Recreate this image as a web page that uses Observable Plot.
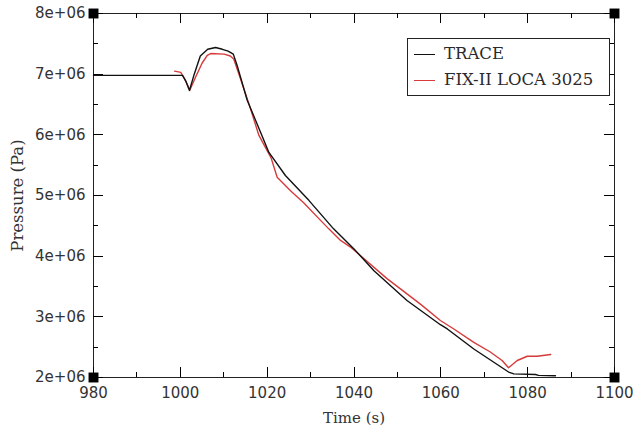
<!DOCTYPE html>
<html><head><meta charset="utf-8">
<script src="https://cdn.jsdelivr.net/npm/d3@7"></script>
<script src="https://cdn.jsdelivr.net/npm/@observablehq/plot@0.6"></script>
<style>
body{margin:0;background:#fff}
#wrap{position:relative;width:635px;height:431px}
.legend{position:absolute;left:407px;top:38px;width:203px;height:58px;box-sizing:border-box;border:1px solid #222;background:#fff;font-family:"DejaVu Serif",serif;font-size:16.5px;color:#2a2a2a}
.row{position:absolute;left:0;height:20px;line-height:20px}
.row .ln{position:absolute;left:6px;top:10px;width:21px;height:1px}
.row .tx{position:absolute;left:36px;top:0;white-space:nowrap}
</style>
</head><body><div id="wrap"></div>
<script>
const traceTime = [980, 1000.5, 1001.3, 1002.1, 1003.2, 1004.6, 1006.3, 1008.1, 1009.7, 1011.0, 1012.2, 1013.1, 1015.4, 1018.5, 1020.4, 1024.2, 1029.6, 1035.3, 1040.0, 1044.6, 1052.2, 1059.9, 1061.5, 1067.6, 1075.6, 1076.8, 1081.8, 1082.5, 1086.4];
const tracePressure = [6.98e6, 6.98e6, 6.88e6, 6.73e6, 7.0e6, 7.3e6, 7.41e6, 7.44e6, 7.41e6, 7.38e6, 7.33e6, 7.14e6, 6.57e6, 6.04e6, 5.71e6, 5.33e6, 4.92e6, 4.45e6, 4.12e6, 3.76e6, 3.27e6, 2.87e6, 2.80e6, 2.47e6, 2.09e6, 2.06e6, 2.05e6, 2.035e6, 2.03e6];
const fixTime = [998.7, 1000.1, 1001.0, 1002.2, 1003.5, 1005.0, 1006.2, 1007.0, 1010.1, 1011.5, 1012.3, 1013.5, 1015.8, 1018.1, 1020.0, 1020.9, 1022.3, 1025.5, 1028.4, 1032.3, 1034.2, 1036.9, 1039.2, 1047.6, 1055.3, 1059.9, 1063.0, 1067.6, 1071.4, 1074.1, 1075.6, 1077.6, 1079.9, 1082.2, 1085.3];
const fixPressure = [7.05e6, 7.03e6, 6.92e6, 6.74e6, 6.95e6, 7.18e6, 7.31e6, 7.34e6, 7.33e6, 7.30e6, 7.25e6, 7.0e6, 6.51e6, 5.99e6, 5.74e6, 5.62e6, 5.30e6, 5.07e6, 4.88e6, 4.59e6, 4.45e6, 4.26e6, 4.15e6, 3.63e6, 3.21e6, 2.94e6, 2.80e6, 2.58e6, 2.42e6, 2.28e6, 2.16e6, 2.28e6, 2.35e6, 2.35e6, 2.38e6];
const xMajorTicks = [980, 1000, 1020, 1040, 1060, 1080, 1100];
const xMinorTicks = [990, 1010, 1030, 1050, 1070, 1090];
const yMajorTicks = [2e6, 3e6, 4e6, 5e6, 6e6, 7e6, 8e6];
const yMinorTicks = [2.5e6, 3.5e6, 4.5e6, 5.5e6, 6.5e6, 7.5e6];
const seriesNames = ["TRACE", "FIX-II LOCA 3025"];
const seriesColors = ["#111111", "#d63a3a"];
const xLabel = "Time (s)";
const yLabel = "Pressure (Pa)";

const trace = traceTime.map((t, i) => ({t, p: tracePressure[i]}));
const fix = fixTime.map((t, i) => ({t, p: fixPressure[i]}));
const xDomain = [xMajorTicks[0], xMajorTicks[xMajorTicks.length - 1]];
const yDomain = [yMajorTicks[0], yMajorTicks[yMajorTicks.length - 1]];
const corners = [];
for (const x of xDomain) for (const y of yDomain) corners.push({x, y});

const W = 635, H = 431, mL = 93, mR = 21, mT = 13, mB = 54;
const iW = W - mL - mR, iH = H - mT - mB;
const majorLen = 10, minorLen = 5;
// tick lengths converted from pixels to data units of each scale
const xPer = (xDomain[1] - xDomain[0]) / iW;
const yPer = (yDomain[1] - yDomain[0]) / iH;
const tickStyle = {stroke: "#000", strokeWidth: 1, shapeRendering: "crispEdges"};
function xTickMarks(ticks, len) {
  return [
    Plot.ruleX(ticks, {x: d => d, y1: yDomain[0], y2: yDomain[0] + len * yPer, ...tickStyle}),
    Plot.ruleX(ticks, {x: d => d, y1: yDomain[1], y2: yDomain[1] - len * yPer, ...tickStyle})
  ];
}
function yTickMarks(ticks, len) {
  return [
    Plot.ruleY(ticks, {y: d => d, x1: xDomain[0], x2: xDomain[0] + len * xPer, ...tickStyle}),
    Plot.ruleY(ticks, {y: d => d, x1: xDomain[1], x2: xDomain[1] - len * xPer, ...tickStyle})
  ];
}

const chart = Plot.plot({
  width: W, height: H,
  marginLeft: mL, marginRight: mR, marginTop: mT, marginBottom: mB,
  x: {domain: xDomain},
  y: {domain: yDomain},
  style: {fontFamily: "DejaVu Sans, sans-serif", background: "#fff"},
  marks: [
    Plot.frame({stroke: "#222", strokeWidth: 1, fill: "none"}),
    Plot.axisX({ticks: xMajorTicks, tickSize: 0, tickPadding: 10, tickFormat: d => String(d), fontSize: 15, fill: "#333", label: null}),
    Plot.axisY({ticks: yMajorTicks, tickSize: 0, tickPadding: 8, tickFormat: d => (d / 1e6) + "e+06", fontSize: 15, fill: "#333", label: null}),
    ...xTickMarks(xMajorTicks, majorLen),
    ...xTickMarks(xMinorTicks, minorLen),
    ...yTickMarks(yMajorTicks, majorLen),
    ...yTickMarks(yMinorTicks, minorLen),
    Plot.line(fix, {x: "t", y: "p", stroke: seriesColors[1], strokeWidth: 1.4}),
    Plot.line(trace, {x: "t", y: "p", stroke: seriesColors[0], strokeWidth: 1.4}),
    Plot.dot(corners, {x: "x", y: "y", symbol: "square", r: 5.6, fill: "#000", stroke: null}),
    Plot.text([xLabel], {frameAnchor: "bottom", dy: 41, lineAnchor: "middle", textAnchor: "middle", text: d => d, fontSize: 15, fontFamily: "DejaVu Serif, serif", fill: "#333"}),
    Plot.text([yLabel], {frameAnchor: "left", dx: -76, rotate: -90, lineAnchor: "middle", textAnchor: "middle", text: d => d, fontSize: 16.5, fontFamily: "DejaVu Serif, serif", fill: "#333"})
  ]
});
const wrap = document.getElementById("wrap");
wrap.appendChild(chart);

const legend = document.createElement("div");
legend.className = "legend";
seriesNames.forEach((name, i) => {
  const row = document.createElement("div");
  row.className = "row";
  row.style.top = (5 + i * 26) + "px";
  row.style.width = "100%";
  const ln = document.createElement("span");
  ln.className = "ln";
  ln.style.background = seriesColors[i];
  const tx = document.createElement("span");
  tx.className = "tx";
  tx.textContent = name;
  row.appendChild(ln); row.appendChild(tx);
  legend.appendChild(row);
});
wrap.appendChild(legend);
</script>
</body></html>
